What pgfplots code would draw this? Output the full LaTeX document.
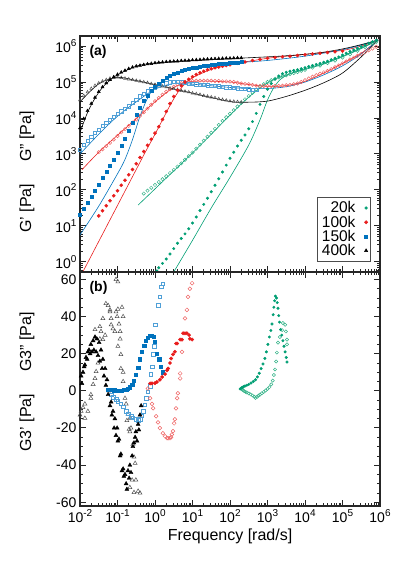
\documentclass[border=0pt]{standalone}
\usepackage{fontspec}
\setmainfont{Liberation Sans}
\usepackage{pgfplots}
\pgfplotsset{compat=1.18}

\definecolor{cg}{RGB}{0,158,115}
\definecolor{cgo}{RGB}{50,178,135}
\definecolor{cr}{RGB}{232,28,28}
\definecolor{cro}{RGB}{238,100,100}
\definecolor{cb}{RGB}{0,114,189}
\definecolor{cbo}{RGB}{80,160,215}
\definecolor{cko}{RGB}{80,80,80}

\newcommand\ex[1]{10\raisebox{0.42em}{\fontsize{10}{10}\selectfont #1}}
\newcommand\q{\char"0027}
\newcommand\qq{\char"0022}

\pgfplotsset{
  base/.style={
    scale only axis, width=300pt,
    xmin=-2, xmax=6,
    xtick={-2,-1,0,1,2,3,4,5,6},
    minor xtick={-1.699,-1.523,-1.398,-1.301,-1.222,-1.155,-1.097,-1.046,
      -0.699,-0.523,-0.398,-0.301,-0.222,-0.155,-0.097,-0.046,
      0.301,0.477,0.602,0.699,0.778,0.845,0.903,0.954,
      1.301,1.477,1.602,1.699,1.778,1.845,1.903,1.954,
      2.301,2.477,2.602,2.699,2.778,2.845,2.903,2.954,
      3.301,3.477,3.602,3.699,3.778,3.845,3.903,3.954,
      4.301,4.477,4.602,4.699,4.778,4.845,4.903,4.954,
      5.301,5.477,5.602,5.699,5.778,5.845,5.903,5.954},
    tick align=inside, tick pos=both,
    xticklabel pos=lower, yticklabel pos=left,
    axis line style={line width=1.6pt, black!85},
    major tick length=6pt, minor tick length=3pt,
    major tick style={line width=1pt, black!85},
    minor tick style={line width=0.7pt, black!85},
    tick label style={font=\fontsize{14}{16}\selectfont},
    label style={font=\fontsize{16}{18}\selectfont},
  },
  gp/.style={only marks, mark=#1, mark size=1.6pt},
  go/.style={only marks, mark=#1, mark size=1.7pt, mark options={fill=white, line width=0.5pt}},
  fit/.style={no markers, line width=0.6pt, smooth},
}

\begin{document}
\begin{tikzpicture}
\useasboundingbox (0,0) rectangle (399pt,564pt);

% ---------------- panel (a) ----------------
\begin{axis}[base,
  at={(80pt,292pt)}, anchor=south west, height=236pt,
  ymin=-0.28, ymax=6.28,
  ytick={0,1,2,3,4,5,6},
  yticklabels={\ex{0},\ex{1},\ex{2},\ex{3},\ex{4},\ex{5},\ex{6}},
  minor ytick={-0.222,-0.155,-0.097,-0.046,
      0.301,0.477,0.602,0.699,0.778,0.845,0.903,0.954,
      1.301,1.477,1.602,1.699,1.778,1.845,1.903,1.954,
      2.301,2.477,2.602,2.699,2.778,2.845,2.903,2.954,
      3.301,3.477,3.602,3.699,3.778,3.845,3.903,3.954,
      4.301,4.477,4.602,4.699,4.778,4.845,4.903,4.954,
      5.301,5.477,5.602,5.699,5.778,5.845,5.903,5.954},
  xticklabels={},
  ylabel={G\q{} [Pa]\hspace{22pt}G\qq{} [Pa]},
  ylabel style={at={(axis description cs:-0.177,0.424)}, anchor=center},
  legend style={at={(axis description cs:0.97,0.045)}, anchor=south east,
    draw=black!70, line width=0.6pt, font=\fontsize{15.5}{16}\selectfont,
    inner xsep=3pt, inner ysep=2pt, row sep=-2.5pt,
    /tikz/every odd column/.append style={column sep=7pt}},
  legend plot pos=right, legend cell align=right,
]
% fits
\addplot[fit, cg, forget plot] coordinates {(0.5,-0.28)(1.0,0.6)(1.5,1.5)(2.0,2.35)(2.5,3.25)(2.8,3.95)(3.0,4.5)(3.2,4.9)(3.4,5.12)(3.7,5.27)(4,5.37)(4.5,5.52)(5,5.72)(5.5,5.95)(5.95,6.17)};
\addplot[fit, cg, forget plot] coordinates {(-0.45,1.58)(0,2.03)(0.5,2.53)(1.0,3.03)(1.5,3.55)(2,4.08)(2.5,4.58)(3,4.98)(3.5,5.2)(4,5.35)(4.5,5.5)(5,5.7)(5.5,5.93)(5.95,6.17)};
\addplot[fit, cr, forget plot] coordinates {(-1.95,-0.33)(-1.5,0.57)(-1.0,1.57)(-0.5,2.57)(-0.27,3.03)(0,3.55)(0.2,3.95)(0.4,4.35)(0.6,4.7)(0.8,4.95)(1.0,5.12)(1.5,5.35)(2,5.48)(3,5.66)(4,5.77)(5,5.88)(5.5,6.0)(5.95,6.17)};
\addplot[fit, cr, forget plot] coordinates {(-1.95,2.56)(-1.5,3.05)(-1.0,3.52)(-0.5,3.98)(0,4.45)(0.5,4.85)(1,5.02)(2,5.0)(2.5,4.93)(3,4.88)(3.5,4.9)(4,5.02)(4.5,5.25)(5,5.52)(5.5,5.8)(5.95,6.17)};
\addplot[fit, cb, forget plot] coordinates {(-2.0,0.75)(-1.5,1.55)(-1.0,2.45)(-0.8,2.85)(-0.6,3.4)(-0.4,4.05)(-0.2,4.55)(0,4.85)(0.5,5.2)(1,5.38)(2,5.52)(3,5.6)(4,5.72)(5,5.9)(5.5,6.03)(5.95,6.17)};
\addplot[fit, cb, forget plot] coordinates {(-2.0,3.0)(-1.5,3.55)(-1.0,4.05)(-0.5,4.45)(0,4.8)(0.5,4.96)(1,4.94)(2,4.85)(2.5,4.82)(3,4.82)(3.5,4.87)(4,5.0)(4.5,5.2)(5,5.45)(5.5,5.78)(5.95,6.17)};
\addplot[fit, black, forget plot] coordinates {(-2.0,3.6)(-1.8,4.15)(-1.6,4.55)(-1.4,4.85)(-1.2,5.05)(-1.0,5.2)(-0.5,5.44)(0,5.53)(1,5.6)(2,5.65)(3,5.7)(3.5,5.73)(4,5.77)(4.5,5.83)(5,5.92)(5.5,6.04)(5.95,6.17)};
\addplot[fit, black, forget plot] coordinates {(-2.0,4.45)(-1.5,4.95)(-1.0,5.13)(-0.5,5.04)(0,4.93)(1,4.69)(2,4.46)(2.5,4.44)(3,4.47)(3.5,4.6)(4,4.77)(4.5,4.98)(5,5.25)(5.5,5.7)(5.95,6.17)};

% G'' open symbols
\addplot[go=o, cgo, forget plot] coordinates {(-0.3,1.9)(-0.2,1.98)(-0.1,2.06)(0,2.14)(0.1,2.22)(0.2,2.3)(0.3,2.38)(0.4,2.47)(0.5,2.56)(0.6,2.65)(0.7,2.74)(0.8,2.84)(0.9,2.94)(1.0,3.04)(1.1,3.15)(1.2,3.26)(1.3,3.37)(1.4,3.48)(1.5,3.59)(1.6,3.7)(1.7,3.81)(1.8,3.92)(1.9,4.02)(2.0,4.12)(2.1,4.22)(2.2,4.32)(2.3,4.42)(2.4,4.52)(2.5,4.61)(2.6,4.7)(2.7,4.79)(2.8,4.87)(2.9,4.94)(3.0,5.0)(3.1,5.05)(3.2,5.09)(3.3,5.13)(3.4,5.16)(3.5,5.19)(3.6,5.22)(3.7,5.25)(3.8,5.28)(3.9,5.31)(4.0,5.34)(4.2,5.4)(4.4,5.46)(4.6,5.53)(4.8,5.6)(5.0,5.68)(5.2,5.77)(5.4,5.87)(5.6,5.97)(5.8,6.07)(5.9,6.12)};
\addplot[go=o, cro, forget plot] coordinates {(-1.5,3.05)(-1.4,3.13)(-1.3,3.22)(-1.2,3.31)(-1.1,3.4)(-1.0,3.5)(-0.9,3.6)(-0.8,3.69)(-0.7,3.78)(-0.6,3.87)(-0.5,3.96)(-0.4,4.06)(-0.3,4.16)(-0.2,4.26)(-0.1,4.37)(0,4.47)(0.1,4.56)(0.2,4.65)(0.3,4.73)(0.4,4.8)(0.5,4.87)(0.6,4.93)(0.7,4.97)(0.8,5.0)(0.9,5.02)(1.0,5.03)(1.1,5.04)(1.2,5.04)(1.3,5.04)(1.4,5.04)(1.5,5.04)(1.6,5.03)(1.7,5.03)(1.8,5.02)(1.9,5.02)(2.0,5.01)(2.1,5.0)(2.2,4.98)(2.3,4.96)(2.4,4.95)(2.5,4.94)(2.6,4.92)(2.7,4.9)(2.8,4.89)(2.9,4.89)(3.0,4.89)(3.1,4.89)(3.2,4.89)(3.3,4.89)(3.4,4.9)(3.5,4.91)(3.6,4.92)(3.7,4.94)(3.8,4.96)(3.9,5.0)(4.0,5.05)(4.1,5.1)(4.2,5.15)(4.3,5.19)(4.4,5.23)(4.5,5.27)(4.6,5.31)(4.7,5.36)(4.8,5.41)(4.9,5.46)(5.0,5.52)(5.1,5.57)(5.2,5.63)(5.3,5.68)(5.4,5.73)(5.5,5.78)(5.6,5.83)(5.7,5.88)(5.8,5.93)(5.9,5.98)};
\addplot[go=square, cbo, forget plot] coordinates {(-2.0,3.12)(-1.9,3.25)(-1.8,3.37)(-1.7,3.48)(-1.6,3.59)(-1.5,3.68)(-1.4,3.78)(-1.3,3.87)(-1.2,3.96)(-1.1,4.04)(-1.0,4.12)(-0.9,4.19)(-0.8,4.26)(-0.7,4.33)(-0.6,4.42)(-0.5,4.5)(-0.4,4.6)(-0.3,4.68)(-0.2,4.74)(-0.1,4.8)(0,4.86)(0.1,4.9)(0.2,4.94)(0.3,4.97)(0.4,4.99)(0.5,5.0)(0.6,5.0)(0.7,4.99)(0.8,4.98)(0.9,4.96)(1.0,4.95)(1.1,4.94)(1.2,4.93)(1.3,4.92)(1.4,4.91)(1.5,4.9)(1.6,4.89)(1.7,4.88)(1.8,4.87)(1.9,4.86)(2.0,4.85)(2.1,4.84)(2.2,4.83)(2.3,4.82)(2.4,4.81)(2.5,4.8)(2.6,4.79)(2.7,4.78)};
\addplot[go=triangle, cko, forget plot] coordinates {(-2.0,4.5)(-1.9,4.62)(-1.8,4.72)(-1.7,4.82)(-1.6,4.9)(-1.5,4.97)(-1.4,5.02)(-1.3,5.06)(-1.2,5.1)(-1.1,5.12)(-1.0,5.13)(-0.9,5.12)(-0.8,5.1)(-0.7,5.08)(-0.6,5.06)(-0.5,5.04)(-0.4,5.02)(-0.3,5.0)(-0.2,4.98)(-0.1,4.95)(0,4.93)(0.1,4.91)(0.2,4.88)(0.3,4.86)(0.4,4.83)(0.5,4.81)(0.6,4.79)(0.7,4.76)(0.8,4.74)(0.9,4.72)(1.0,4.69)(1.1,4.67)(1.2,4.65)(1.3,4.62)(1.4,4.6)(1.5,4.58)(1.6,4.56)(1.7,4.53)(1.8,4.51)(1.9,4.49)(2.0,4.47)(2.1,4.46)(2.2,4.45)(2.3,4.44)};

% G' filled symbols (legend)
\addplot[gp=*, cg, mark size=1.3pt] coordinates {(0.05,-0.25)(0.1,-0.16)(0.2,-0.04)(0.3,0.08)(0.4,0.22)(0.5,0.37)(0.6,0.52)(0.7,0.65)(0.8,0.78)(0.9,0.92)(1.0,1.08)(1.1,1.25)(1.2,1.43)(1.3,1.6)(1.4,1.77)(1.5,1.95)(1.6,2.13)(1.7,2.31)(1.8,2.5)(1.9,2.69)(2.0,2.88)(2.1,3.05)(2.2,3.22)(2.3,3.38)(2.4,3.53)(2.5,3.7)(2.6,3.9)(2.7,4.13)(2.8,4.38)(2.9,4.6)(3.0,4.8)(3.1,4.96)(3.2,5.08)(3.3,5.17)(3.4,5.23)(3.5,5.27)(3.6,5.3)(3.7,5.32)(3.8,5.34)(3.9,5.37)(4.0,5.4)(4.1,5.43)(4.2,5.46)(4.3,5.49)(4.4,5.52)(4.5,5.55)(4.6,5.58)(4.7,5.62)(4.8,5.66)(4.9,5.7)(5.0,5.75)(5.1,5.8)(5.2,5.85)(5.3,5.89)(5.4,5.94)(5.5,5.98)(5.6,6.03)(5.7,6.08)(5.8,6.12)(5.9,6.16)};
\addlegendentry{20k}
\addplot[gp=*, cr] coordinates {(-1.5,1.28)(-1.4,1.42)(-1.3,1.56)(-1.2,1.7)(-1.1,1.84)(-1.0,1.98)(-0.9,2.13)(-0.8,2.27)(-0.7,2.42)(-0.6,2.57)(-0.5,2.73)(-0.4,2.9)(-0.3,3.07)(-0.2,3.24)(-0.1,3.41)(0,3.58)(0.1,3.76)(0.2,3.96)(0.3,4.18)(0.4,4.4)(0.5,4.6)(0.6,4.77)(0.7,4.9)(0.8,5.0)(0.9,5.08)(1.0,5.15)(1.1,5.21)(1.2,5.26)(1.3,5.3)(1.4,5.34)(1.5,5.37)(1.6,5.4)(1.7,5.42)(1.8,5.44)(1.9,5.46)(2.0,5.48)(2.2,5.52)(2.4,5.56)(2.6,5.6)(2.8,5.63)(3.0,5.66)(3.2,5.68)(3.4,5.7)(3.6,5.72)(3.8,5.74)(4.0,5.76)(4.2,5.78)(4.4,5.8)(4.6,5.82)(4.8,5.84)(5.0,5.86)};
\addlegendentry{100k}
\addplot[gp=square*, cb, mark size=1.5pt] coordinates {(-2.0,1.3)(-1.9,1.48)(-1.8,1.65)(-1.7,1.82)(-1.6,1.99)(-1.5,2.16)(-1.4,2.33)(-1.3,2.5)(-1.2,2.67)(-1.1,2.85)(-1.0,3.03)(-0.9,3.22)(-0.8,3.42)(-0.7,3.65)(-0.6,3.88)(-0.5,4.1)(-0.4,4.3)(-0.3,4.48)(-0.2,4.63)(-0.1,4.76)(0,4.87)(0.1,4.96)(0.2,5.04)(0.3,5.11)(0.4,5.17)(0.5,5.22)(0.6,5.27)(0.7,5.31)(0.8,5.34)(0.9,5.37)(1.0,5.39)(1.1,5.41)(1.2,5.43)(1.3,5.45)(1.4,5.46)(1.5,5.48)(1.6,5.49)(1.7,5.5)(1.8,5.51)(1.9,5.52)(2.0,5.53)(2.1,5.54)(2.2,5.55)(2.3,5.56)};
\addlegendentry{150k}
\addplot[gp=triangle*, black, mark size=1.8pt] coordinates {(-2.0,3.72)(-1.9,3.98)(-1.8,4.2)(-1.7,4.4)(-1.6,4.57)(-1.5,4.73)(-1.4,4.86)(-1.3,4.97)(-1.2,5.06)(-1.1,5.14)(-1.0,5.21)(-0.9,5.27)(-0.8,5.32)(-0.7,5.37)(-0.6,5.41)(-0.5,5.44)(-0.4,5.46)(-0.3,5.48)(-0.2,5.5)(-0.1,5.51)(0,5.53)(0.1,5.54)(0.2,5.55)(0.3,5.56)(0.4,5.57)(0.5,5.575)(0.6,5.58)(0.7,5.59)(0.8,5.595)(0.9,5.6)(1.0,5.61)(1.1,5.615)(1.2,5.62)(1.3,5.63)(1.4,5.635)(1.5,5.64)(1.6,5.645)(1.7,5.65)(1.8,5.655)(1.9,5.66)(2.0,5.66)(2.1,5.665)(2.2,5.67)(2.3,5.67)};
\addlegendentry{400k}

\node[anchor=north west, font=\bfseries\fontsize{14}{16}\selectfont] at (axis description cs:0.02,0.975) {(a)};
\end{axis}

% ---------------- panel (b) ----------------
\begin{axis}[base,
  at={(80pt,58pt)}, anchor=south west, height=234pt,
  ymin=-62, ymax=64,
  ytick={-60,-40,-20,0,20,40,60},
  yticklabels={-60,-40,-20,0,20,40,60},
  minor y tick num=3,
  xticklabels={\ex{-2},\ex{-1},\ex{0},\ex{1},\ex{2},\ex{3},\ex{4},\ex{5},\ex{6}},
  xlabel={Frequency [rad/s]},
  ylabel={G3\q{} [Pa]\hspace{22pt}G3\qq{} [Pa]},
  ylabel style={at={(axis description cs:-0.177,0.53)}, anchor=center},
]
% G3'' open
\addplot[go=triangle, cko, mark size=2.3pt] coordinates {(-1.87,-7)(-1.97,-11)(-1.79,-11)(-1.87,-14.7)(-1.92,-9)(-2.0,-13)(-1.71,-4)(-1.71,-2)(-1.65,3.5)(-1.6,6.7)(-1.57,10.4)(-1.52,15)(-1.47,28)(-1.44,32)(-1.39,39)(-1.31,47)(-1.25,46)(-1.2,42.6)(-1.17,39)(-1.17,35.6)(-1.12,33.5)(-1.07,32)(-1.04,42.6)(-0.99,44)(-0.93,28)(-0.91,19.6)(-0.91,12)(-0.85,5)(-0.8,-4)(-0.77,-7)(-0.72,-12.6)(-0.67,-14.7)(-0.64,-20)(-0.59,-28.7)(-0.53,-39)(-0.51,-48)(-0.45,-54)(-0.4,-55)(-0.99,58.7)(-1.04,60)(-1.6,33)(-1.47,34.6)(-1.39,27.6)(-1.33,30)(-1.2,43.6)(-0.88,45)(-1.01,40)(-0.96,36)(-0.93,32)(-0.99,24)(-0.85,40)(-0.85,10)(-0.69,-20.6)(-0.67,-22)(-0.56,-35.6)(-0.61,-48)(-0.67,-52)(-0.56,-54.7)(-0.75,-16)};
\addplot[go=square, cbo, mark size=1.8pt] coordinates {(-1.17,-2)(-1.12,-3.5)(-1.04,-4.6)(-0.99,-5.5)(-0.91,-7)(-0.85,-8.5)(-0.77,-11)(-0.72,-12.3)(-0.64,-13.7)(-0.59,-14.5)(-0.51,-15.3)(-0.45,-15.8)(-0.4,-15.3)(-0.35,-13.5)(-0.32,-11)(-0.27,-7.5)(-0.24,-4)(-0.19,-0.5)(-0.13,2.4)(-0.11,9)(-0.08,13)(-0.05,19.6)(-0.02,24)(0,35.6)(0.08,46)(0.13,50.6)(0.16,56)(0.21,57.6)};
\addplot[go=o, cro, mark size=1.9pt] coordinates {(-0.19,1.3)(-0.13,-4)(-0.08,-7)(-0.05,-9.4)(0.03,-13.7)(0.08,-17)(0.13,-20)(0.21,-22.8)(0.27,-24.5)(0.32,-25.5)(0.35,-25.5)(0.4,-25.5)(0.43,-25)(0.45,-23.5)(0.48,-21.7)(0.51,-17.5)(0.53,-15.3)(0.56,-9.4)(0.59,-4)(0.61,-1.3)(0.67,6.7)(0.67,9.4)(0.72,21)(0.8,39)(0.85,43.6)(0.88,50.6)(0.93,55)(0.99,58)};
\addplot[go=o, cgo, mark size=1.6pt] coordinates {(2.32,0.8)(2.35,0.3)(2.38,-0.2)(2.42,-0.6)(2.45,-0.9)(2.5,-1.4)(2.55,-1.9)(2.6,-2.5)(2.65,-3.2)(2.68,-3.8)(2.72,-3.2)(2.76,-2.6)(2.8,-2.0)(2.85,-1.3)(2.9,-0.6)(2.95,0.2)(3.0,1.0)(3.05,2.0)(3.1,3.5)(3.14,5.5)(3.17,8.5)(3.2,11.5)(3.23,15.8)(3.25,20.6)(3.28,26)(3.33,29)(3.39,32.7)(3.41,36.5)(3.47,35.6)(3.49,32)(3.52,27.6)(3.52,25)};
% G3' filled
\addplot[gp=triangle*, black, mark size=2.3pt] coordinates {(-1.97,8)(-1.95,4)(-1.92,10)(-1.89,13)(-1.87,14)(-1.84,18)(-1.81,17)(-1.79,21)(-1.76,22)(-1.73,20)(-1.71,25)(-1.68,21)(-1.65,27)(-1.63,22)(-1.6,29)(-1.57,21)(-1.55,28)(-1.52,19)(-1.49,26)(-1.47,16)(-1.44,22)(-1.41,12)(-1.39,17)(-1.36,8)(-1.33,12)(-1.31,3)(-1.28,6)(-1.25,-2)(-1.23,0)(-1.2,-8)(-1.17,-6)(-1.15,-13)(-1.12,-11)(-1.09,-20)(-1.07,-15)(-1.04,-24)(-1.01,-20)(-0.99,-27)(-0.96,-26)(-0.93,-35)(-0.91,-34)(-0.88,-43)(-0.85,-42)(-0.83,-46)(-0.8,-45)(-0.77,-50)(-0.75,-53)(-0.72,-43)(-0.69,-47)(-0.67,-40)(-0.64,-44)(-0.61,-35)(-0.59,-30)(-0.56,-28)(-0.53,-25)(-0.51,-22)(-0.48,-27)(-0.45,-18)(-0.43,-21)(-0.4,-13)(-0.37,-8)};
\addplot[gp=square*, cb, mark size=1.6pt] coordinates {(-1.25,0.8)(-1.2,0.8)(-1.15,0.5)(-1.09,0.3)(-1.04,0.2)(-0.99,0)(-0.93,0)(-0.88,0.2)(-0.83,0.5)(-0.77,0.8)(-0.72,1.2)(-0.67,2)(-0.61,3.5)(-0.56,5.5)(-0.51,8.5)(-0.45,12.5)(-0.4,17)(-0.35,21)(-0.29,24.5)(-0.24,27)(-0.19,28.5)(-0.13,29.5)(-0.08,29.8)(-0.03,29)(0,26.5)(0.05,20)(0.11,17)(0.16,13)(0.21,10)};
\addplot[gp=*, cr, mark size=1.7pt] coordinates {(-0.13,4)(-0.08,4)(0,4.2)(0.05,4.8)(0.13,6)(0.19,7.5)(0.27,9)(0.32,11)(0.35,12)(0.4,15)(0.43,17.4)(0.48,19.6)(0.53,21)(0.56,25.5)(0.59,25.5)(0.67,27.6)(0.72,27.6)(0.75,31)(0.8,31)(0.85,31)(0.91,30)(0.93,28)(0.99,27.6)};
\addplot[gp=*, cg, mark size=1.3pt] coordinates {(2.27,1.0)(2.29,1.3)(2.31,1.6)(2.33,1.9)(2.36,2.2)(2.4,2.6)(2.45,3.0)(2.5,3.5)(2.56,4.2)(2.62,5.0)(2.68,6.0)(2.73,7.5)(2.78,9.5)(2.83,12)(2.88,14.5)(2.93,17.5)(2.97,21)(3.01,25)(3.05,29)(3.09,32.5)(3.12,36)(3.15,41)(3.17,45)(3.19,48.5)(3.21,51)(3.24,50)(3.26,47.5)(3.28,44.5)(3.3,40.5)(3.32,37)(3.35,33)(3.38,30)(3.41,27)(3.44,24)(3.47,21)(3.5,18)(3.52,15.5)};

\node[anchor=north west, font=\bfseries\fontsize{14}{16}\selectfont] at (axis description cs:0.02,0.975) {(b)};
\end{axis}
\end{tikzpicture}
\end{document}
